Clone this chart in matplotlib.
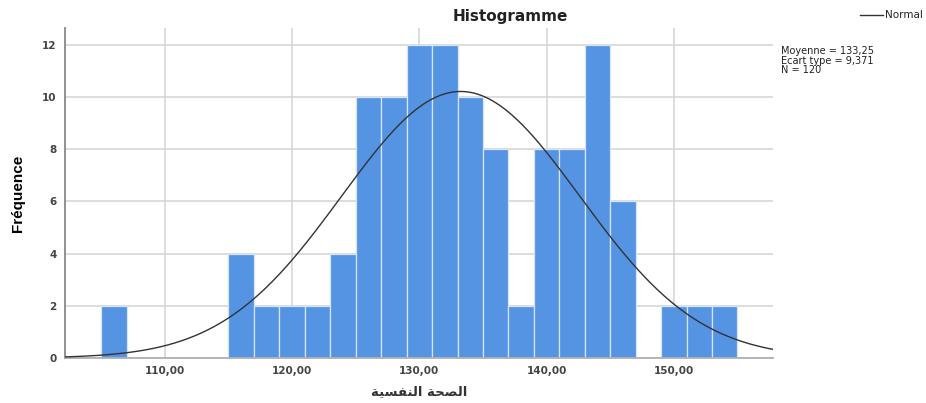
import numpy as np
from matplotlib import pyplot as plt

# histogram counts (bin width 2)
bin_left = [105, 115, 117, 119, 121, 123, 125, 127, 129, 131, 133, 135, 137,
            139, 141, 143, 145, 149, 151, 153]
counts = [2, 4, 2, 2, 2, 4, 10, 10, 12, 12, 10, 8, 2, 8, 8, 12, 6, 2, 2, 2]
bin_width = 2

mean = 133.25
std = 9.371
n = 120

x_ticks = [110, 120, 130, 140, 150]
y_ticks = [0, 2, 4, 6, 8, 10, 12]

# "الصحة النفسية" written in presentation forms, visual order
xlabel = "\ufe94\ufef4\ufeb4\ufed4\ufee8\ufedf\ufe8d \ufe94\ufea4\ufebc\ufedf\ufe8d"

fig = plt.figure(figsize=(9.26, 4.03), dpi=100)
ax = fig.add_axes([0.0702, 0.1117, 0.7646, 0.8188])

ax.bar(bin_left, counts, width=bin_width, align="edge",
       color="#5494e3", edgecolor="#d6e4f6", linewidth=0.9, zorder=2)

xlo, xhi = 102.15, 157.8
xs = np.linspace(xlo, xhi, 400)
pdf = n * bin_width / (std * np.sqrt(2 * np.pi)) * np.exp(-0.5 * ((xs - mean) / std) ** 2)
ax.plot(xs, pdf, color="#333333", lw=1.0, zorder=3)

ax.set_xlim(xlo, xhi)
ax.set_ylim(0, 12.65)
ax.set_xticks(x_ticks)
ax.set_xticklabels([f"{v:.2f}".replace(".", ",") for v in x_ticks])
ax.set_yticks(y_ticks)
ax.tick_params(length=0, labelsize=7.5, labelcolor="#444444", pad=6)
for lab in ax.get_xticklabels() + ax.get_yticklabels():
    lab.set_fontweight("bold")
    lab.set_family("DejaVu Sans")

ax.grid(True, color="#d3d3d3", lw=1.1, zorder=0)
ax.set_axisbelow(True)
ax.spines["top"].set_visible(False)
ax.spines["right"].set_visible(False)
ax.spines["left"].set_color("#888888")
ax.spines["left"].set_linewidth(1.3)
ax.spines["bottom"].set_color("#b0b0b0")
ax.spines["bottom"].set_linewidth(1.3)

ax.set_ylabel("Fréquence", family="Liberation Sans", fontweight="bold",
              fontsize=11, va="center")
ax.yaxis.set_label_coords(-0.066, 0.5)
ax.set_xlabel(xlabel, family="DejaVu Sans", fontweight="bold", fontsize=9.5,
              color="#333333", labelpad=6)

fig.text(510 / 926, 1 - 17 / 403, "Histogramme", family="DejaVu Sans",
         fontweight="bold", fontsize=11, ha="center", va="center", color="#222222")

fig.add_artist(plt.Line2D([860 / 926, 883 / 926], [1 - 15 / 403] * 2,
                          color="#333333", lw=1.0, transform=fig.transFigure))
fig.text(885 / 926, 1 - 15 / 403, "Normal", family="DejaVu Sans", fontsize=7.5,
         ha="left", va="center", color="#222222")
fig.text(781 / 926, 1 - 46 / 403,
         f"Moyenne = {mean:.2f}".replace(".", ",") + "\n"
         + f"Ecart type = {std:.3f}".replace(".", ",") + "\n"
         + f"N = {n}",
         family="DejaVu Sans", fontsize=7, ha="left", va="top",
         linespacing=0.95, color="#222222")

fig.savefig("out.png", dpi=100)
